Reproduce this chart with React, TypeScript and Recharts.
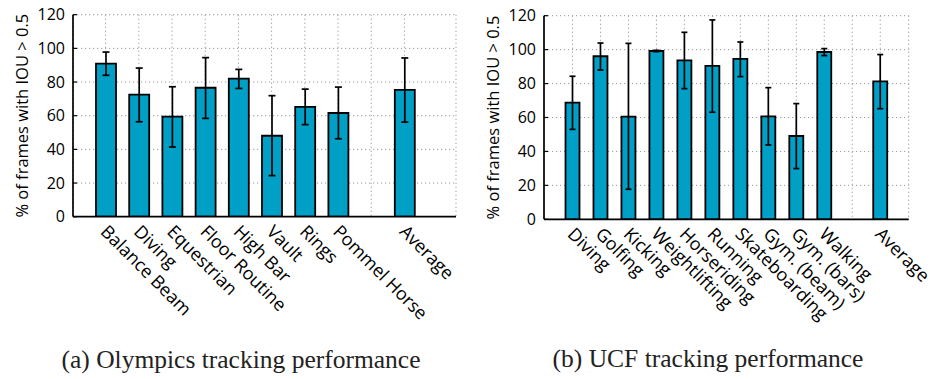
import React from 'react';
import { BarChart, Bar, XAxis, YAxis, CartesianGrid, ErrorBar } from 'recharts';

// (a) Olympics
const olympicsCategories = ['Balance Beam', 'Diving', 'Equestrian', 'Floor Routine', 'High Bar', 'Vault', 'Rings', 'Pommel Horse', '', 'Average'];
const olympicsValues = [90.9, 72.5, 59.4, 76.6, 82.0, 48.1, 65.3, 61.6, 0, 75.4];
const olympicsLow = [84.0, 56.4, 41.4, 58.4, 76.2, 24.4, 54.7, 46.3, 0, 56.2];
const olympicsHigh = [97.8, 88.3, 77.2, 94.5, 87.5, 71.9, 75.8, 77.0, 0, 94.3];

// (b) UCF
const ucfCategories = ['Diving', 'Golfing', 'Kicking', 'Weightlifting', 'Horseriding', 'Running', 'Skateboarding', 'Gym. (beam)', 'Gym. (bars)', 'Walking', '', 'Average'];
const ucfValues = [68.8, 96.1, 60.5, 99.2, 93.7, 90.4, 94.5, 60.7, 49.1, 98.6, 0, 81.3];
const ucfLow = [53.0, 88.0, 17.7, 98.8, 77.0, 63.1, 84.1, 43.8, 29.9, 96.5, 0, 65.2];
const ucfHigh = [84.3, 103.9, 103.7, 99.6, 110.2, 117.5, 104.5, 77.6, 68.2, 100.6, 0, 97.1];

const yTicks = [0, 20, 40, 60, 80, 100, 120];
const yLabel = '% of frames with IOU > 0.5';

const BAR_COLOR = '#009fc5';
const SANS = '"Open Sans", "DejaVu Sans", sans-serif';
const SERIF = '"Liberation Serif", serif';

function buildRows(cats: string[], vals: number[], lo: number[], hi: number[]) {
  return cats.map((name, i) => ({
    name,
    value: vals[i],
    err: [vals[i] - lo[i], hi[i] - vals[i]],
  }));
}

function SlantTick({ x, y, payload }: any) {
  const ax = x - 6;
  const ay = y + 8;
  return (
    <text
      x={ax}
      y={ay}
      transform={`rotate(45 ${ax} ${ay})`}
      textAnchor="start"
      fontFamily={SANS}
      fontSize={18}
      fill="#000"
    >
      {payload.value}
    </text>
  );
}

function YLabel({ viewBox }: any) {
  const cx = (viewBox?.x ?? 0) + 22;
  const cy = (viewBox?.y ?? 0) + (viewBox?.height ?? 0) / 2;
  return (
    <text
      x={cx}
      y={cy}
      transform={`rotate(-90 ${cx} ${cy})`}
      textAnchor="middle"
      dominantBaseline="central"
      fontFamily={SANS}
      fontSize={16.5}
      fill="#000"
    >
      {yLabel}
    </text>
  );
}

interface PanelProps {
  rows: { name: string; value: number; err: number[] }[];
  margin: { top: number; right: number; bottom: number; left: number };
  yAxisWidth: number;
  pad: { left: number; right: number };
  barSize: number;
  capWidth: number;
}

const frame = { stroke: '#000', strokeWidth: 1.7 };

function Panel({ rows, margin, yAxisWidth, pad, barSize, capWidth }: PanelProps) {
  return (
    <BarChart width={470} height={379} data={rows} margin={margin} barCategoryGap={0}>
      <CartesianGrid stroke="#9a9a9a" strokeDasharray="1.2 2.8" strokeWidth={1} />
      <XAxis
        dataKey="name"
        interval={0}
        padding={pad}
        height={30}
        axisLine={frame}
        tickLine={false}
        tick={<SlantTick />}
      />
      <XAxis
        xAxisId="top"
        orientation="top"
        dataKey="name"
        padding={pad}
        height={0}
        tick={false}
        tickLine={false}
        axisLine={frame}
      />
      <YAxis
        domain={[0, 120]}
        ticks={yTicks}
        allowDataOverflow
        width={yAxisWidth}
        axisLine={frame}
        tickSize={-4}
        tickMargin={12}
        tickLine={{ stroke: '#000', strokeWidth: 1.2 }}
        tick={{ fill: '#000', fontFamily: SANS, fontSize: 16 }}
        label={<YLabel />}
      />
      <YAxis
        yAxisId="right"
        orientation="right"
        domain={[0, 120]}
        ticks={yTicks}
        width={0}
        tick={false}
        tickSize={-4}
        tickLine={{ stroke: '#000', strokeWidth: 1.2 }}
        axisLine={frame}
      />
      <Bar
        dataKey="value"
        fill={BAR_COLOR}
        stroke="#000"
        strokeWidth={1.8}
        barSize={barSize}
        isAnimationActive={false}
      >
        <ErrorBar dataKey="err" direction="y" width={capWidth} stroke="#000" strokeWidth={1.7} />
      </Bar>
    </BarChart>
  );
}

export default function App() {
  const olympicsRows = buildRows(olympicsCategories, olympicsValues, olympicsLow, olympicsHigh);
  const ucfRows = buildRows(ucfCategories, ucfValues, ucfLow, ucfHigh);

  return (
    <div style={{ position: 'absolute', left: 0, top: 0, width: 940, height: 379, background: '#fff', overflow: 'hidden' }}>
      <div style={{ position: 'absolute', left: 0, top: 0 }}>
        <Panel
          rows={olympicsRows}
          margin={{ top: 14.7, right: 14, bottom: 132.3, left: 0 }}
          yAxisWidth={73}
          pad={{ left: 16, right: 35 }}
          barSize={20}
          capWidth={3.5}
        />
      </div>
      <div style={{ position: 'absolute', left: 470, top: 0 }}>
        <Panel
          rows={ucfRows}
          margin={{ top: 15.7, right: 31.3, bottom: 129.7, left: 0 }}
          yAxisWidth={74}
          pad={{ left: 14.5, right: 14.5 }}
          barSize={14}
          capWidth={3}
        />
      </div>
      <svg width={940} height={379} style={{ position: 'absolute', left: 0, top: 0, pointerEvents: 'none' }}>
        <text x={241} y={368} textAnchor="middle" fontFamily={SERIF} fontSize={25.5} fill="#222">
          (a) Olympics tracking performance
        </text>
        <text x={708} y={367} textAnchor="middle" fontFamily={SERIF} fontSize={25.5} fill="#222">
          (b) UCF tracking performance
        </text>
      </svg>
    </div>
  );
}
